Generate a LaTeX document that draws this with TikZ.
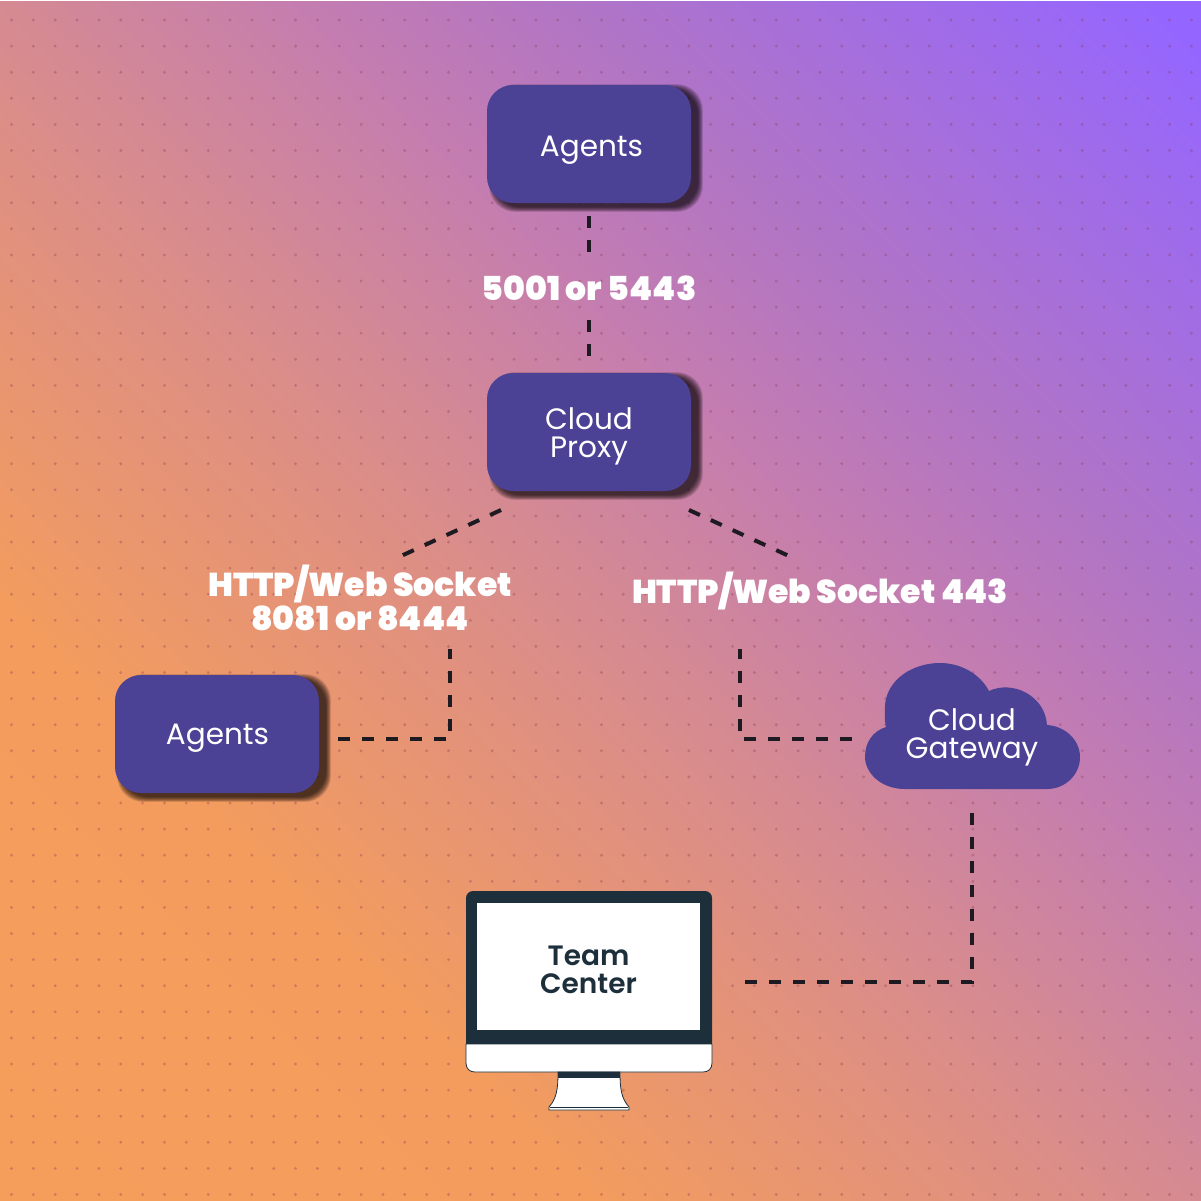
\documentclass[tikz,border=0pt]{standalone}
\usepackage{fontspec}
\setmainfont{Poppins}
\newfontfamily\pblack{Poppins Black}
\newfontfamily\psemi{Poppins SemiBold}
\usetikzlibrary{calc}
\definecolor{boxc}{HTML}{4B4195}
\definecolor{dashc}{HTML}{1E1A22}
\definecolor{darkc}{HTML}{1C2F3B}
\definecolor{dotc}{HTML}{8A3A50}
\definecolor{g0}{HTML}{F59E5C}
\definecolor{g1}{HTML}{F39C5E}
\definecolor{g2}{HTML}{E09080}
\definecolor{g3}{HTML}{D58A92}
\definecolor{g4}{HTML}{C47DB0}
\definecolor{g5}{HTML}{AF74C8}
\definecolor{g6}{HTML}{9566FF}
\pgfdeclareverticalshading{diaggrad}{100bp}{
 color(0bp)=(g0);
 color(14.65bp)=(g0);
 color(32.3bp)=(g1);
 color(44.3bp)=(g2);
 color(50bp)=(g3);
 color(58.8bp)=(g4);
 color(67.7bp)=(g5);
 color(84bp)=(g6);
 color(100bp)=(g6)}
\tikzset{
 pbox/.style={draw=none,fill=boxc,rounded corners=26,minimum width=204,minimum height=118,inner sep=0},
 ptext/.style={text=white,inner sep=0,font=\fontsize{29.5}{28}\selectfont,align=center},
 dashln/.style={draw=dashc,line width=4,dash pattern=on 12 off 12},
 lbl/.style={text=white,font=\pblack\fontsize{33}{34}\selectfont,align=center,inner sep=0},
}
\newcommand{\softshadow}[5]{%
 \foreach \k in {0,...,9}{
  \fill[black,opacity=0.1,rounded corners=#5]
   ({#1+7-\k*0.55},{#2+4-\k*0.55}) rectangle ({#3+7+\k*0.55},{#4+4+\k*0.55});
 }}
\begin{document}
\begin{tikzpicture}[x=1pt,y=-1pt,line cap=butt]
\useasboundingbox (0,0) rectangle (1201,1200);
\fill[white] (0,0) rectangle (1201,1200);
\begin{scope}
 \clip (0,1.5) rectangle (1201,1200);
 \shade[shading=diaggrad,shading angle=-45] (0,0) rectangle (1201,1200);
 \foreach \x in {0,...,54}{\foreach \y in {0,...,45}{
   \fill[dotc,opacity=.34] ({11.5+21.85*\x},{20+26.1*\y}) circle (1.6);
 }}
\end{scope}

\softshadow{487}{85}{691}{203}{26}
\softshadow{487}{373}{691}{491}{26}
\softshadow{115}{675}{319}{793}{26}

\node[pbox] (agentsTopBox) at (589,144) {};
\node[ptext] (agentsTop) at (591.5,150) {Agents};
\node[pbox] (proxyBox) at (589,432) {};
\node[ptext] (proxy) at (589,436) {Cloud\\Proxy};
\node[pbox] (agentsLeftBox) at (217,734) {};
\node[ptext] (agentsLeft) at (217.5,738) {Agents};

% cloud
\fill[boxc] (905,789) .. controls (880,789) and (865,772) .. (865,757)
 .. controls (865,742) and (873,731) .. (886,727)
 .. controls (884,718) and (885,712) .. (885,705)
 .. controls (887,680) and (912,663) .. (940,663)
 .. controls (961,663) and (980,674) .. (989,691)
 .. controls (1012,680) and (1045,695) .. (1047,725)
 .. controls (1065,726) and (1080,740) .. (1080,757)
 .. controls (1080,775) and (1065,789) .. (1047,789) -- cycle;
\node[ptext] (gateway) at (972,737.5) {Cloud\\Gateway};

% monitor
\fill[darkc,rounded corners=7] (466,891) rectangle (712,1050);
\fill[white,draw=darkc,line width=.8] (466,1044) -- (712,1044) -- (712,1063) .. controls (712,1069) and (708,1072) .. (703,1072) -- (475,1072) .. controls (470,1072) and (466,1069) .. (466,1063) -- cycle;
\fill[white,draw=darkc,line width=.8] (558,1072) -- (620,1072) .. controls (620,1088) and (621,1098) .. (629,1107) -- (629,1110) -- (549,1110) -- (549,1107) .. controls (557,1098) and (558,1088) .. (558,1072) -- cycle;
\fill[darkc] (558,1072) rectangle (620,1078);
\draw[darkc,line width=.8] (550,1107) -- (628,1107);
\fill[white] (477,903) rectangle (700,1030);
\node[inner sep=0,text=darkc,font=\psemi\fontsize{28}{28}\selectfont,align=center] (team) at (588.5,970) {Team\\Center};

% labels
\node[lbl] (l1) at (589,288) {5001 or 5443};
\node[lbl] (l2) at (360,598) {HTTP/Web Socket\\8081 or 8444};
\node[lbl] (l3) at (820,591) {HTTP/Web Socket 443};

% connector ends
\coordinate (c1a) at (589,216); \coordinate (c1b) at (589,252);
\coordinate (c2a) at (589,320); \coordinate (c2b) at (589,357);
\coordinate (c3a) at (501,510); \coordinate (c3b) at (401,556);
\coordinate (c4a) at (689,510); \coordinate (c4b) at (789,556);
\coordinate (c5a) at (338,739); \coordinate (c5m) at (450,739); \coordinate (c5b) at (450,649);
\coordinate (c6a) at (852,739); \coordinate (c6m) at (740,739); \coordinate (c6b) at (740,649);
\coordinate (c7a) at (972,813); \coordinate (c7m) at (972,981.5); \coordinate (c7b) at (744,981.5);
\draw[dashln] (c1a) -- (c1b);
\draw[dashln] (c2a) -- (c2b);
\draw[dashln] (c3a) -- (c3b);
\draw[dashln] (c4a) -- (c4b);
\draw[dashln] (c5a) -- (c5m) -- (c5b);
\draw[dashln] (c6a) -- (c6m) -- (c6b);
\draw[dashln] (c7a) -- (c7m) -- (c7b);
\end{tikzpicture}
\end{document}
